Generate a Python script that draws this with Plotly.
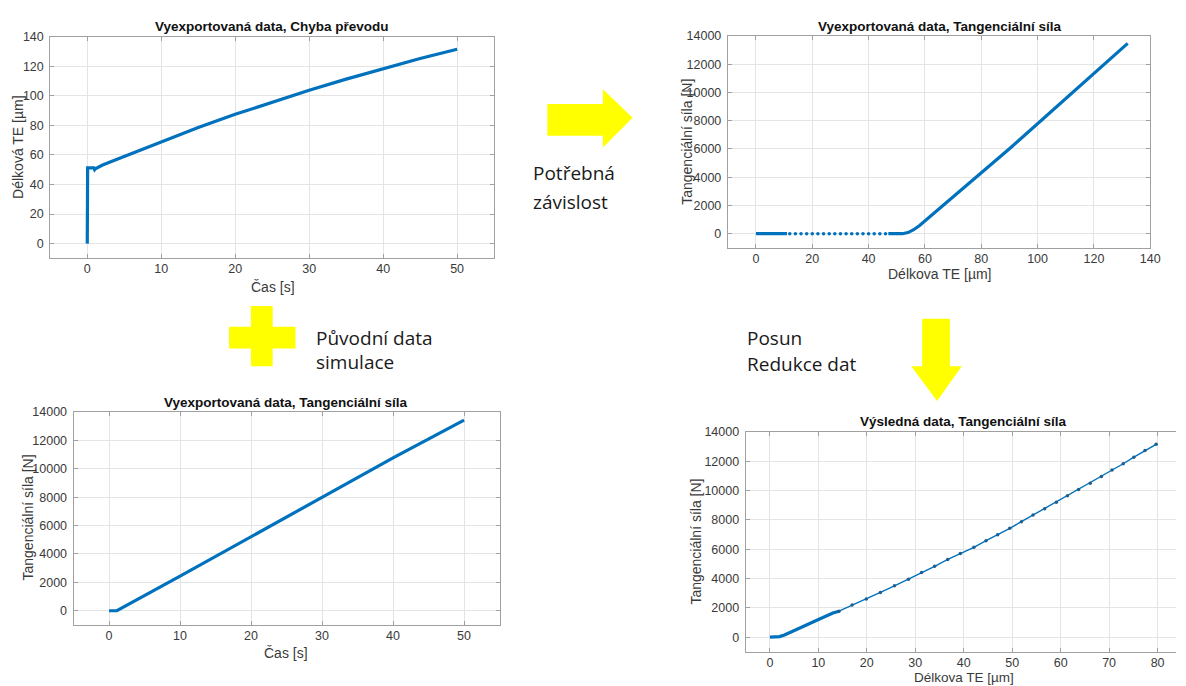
import plotly.graph_objects as go

W, H = 1186, 686
BLUE = "#0072BD"
GRID = "#e4e4e4"
AXC = "#a0a0a0"
TXT = "#3a3a3a"
YELLOW = "#FFFF00"
FONT = "Liberation Sans, Arial, sans-serif"
NOTE_FONT = "Open Sans, Noto Sans, sans-serif"

# ---- Data: plot 1 (Čas vs Délková TE)
cas1 = [0, 0, 0.05, 0.9, 1.0, 1.1, 2, 3, 5, 7.5, 10, 15, 20, 25, 30, 35, 40, 45, 50]
te1 = [0, 51, 51.3, 51.3, 50.0, 50.6, 53, 55, 59, 63.5, 68.5, 78.5, 87.5, 95.8, 103.7, 111.3, 118.5, 125.3, 131.5]

# ---- Data: plot 2 (Délkova TE vs Tangenciální síla)
te2_flat = [0, 11]
f2_flat = [0, 0]
te2_dots = [12, 14, 16, 18, 20, 22, 24, 26, 28, 30, 32, 34, 36, 38, 40, 42, 44, 46]
f2_dots = [0] * len(te2_dots)
te2_curve = [47, 52, 54, 56, 58, 60, 63, 66, 70, 75, 80, 85, 90, 95, 100, 105, 110, 115, 120, 125, 132]
f2_curve = [0, 0, 80, 280, 560, 900, 1400, 1910, 2600, 3420, 4250, 5135, 6020, 6905, 7790,
            8675, 9560, 10445, 11330, 12215, 13480]

# ---- Data: plot 3 (Čas vs Tangenciální síla)
cas3 = [0, 1.1, 10, 20, 30, 40, 50]
f3 = [0, 0, 2440, 5230, 8020, 10770, 13440]

# ---- Data: plot 4 (Výsledná data)
te4_dense = [0, 1, 1.6, 2, 3, 4, 5, 6, 7, 8, 9, 10, 11, 12, 13, 14.25]
f4_dense = [0, 0, 10, 40, 150, 290, 450, 600, 750, 900, 1050, 1200, 1350, 1500, 1650, 1775]
te4_pts = [14.25, 16.97, 19.9, 22.8, 25.7, 28.6, 31.3, 34.0, 36.7, 39.3, 42.1, 44.6, 47.0, 49.5,
           51.9, 54.3, 56.7, 59.1, 61.4, 63.7, 66.1, 68.4, 70.6, 72.9, 75.1, 77.4, 79.7]
f4_pts = [1775, 2200, 2607, 3056, 3505, 3955, 4404, 4831, 5303, 5708, 6128, 6579, 6983, 7428,
          7879, 8330, 8754, 9204, 9650, 10081, 10505, 10956, 11400, 11830, 12279, 12727, 13152]

titles = ["Vyexportovaná data, Chyba převodu", "Vyexportovaná data, Tangenciální síla",
          "Vyexportovaná data, Tangenciální síla", "Výsledná data, Tangenciální síla"]
xlabels = ["Čas [s]", "Délkova TE [µm]", "Čas [s]", "Délkova TE [µm]"]
ylabels = ["Délková TE [µm]", "Tangenciální síla [N]", "Tangenciální síla [N]", "Tangenciální síla [N]"]


def px(x):
    return x / W


def py(y):
    return 1 - y / H


fig = go.Figure()
fig.add_trace(go.Scatter(x=cas1, y=te1, mode="lines", line=dict(color=BLUE, width=3.2),
                         xaxis="x", yaxis="y"))
fig.add_trace(go.Scatter(x=te2_flat, y=f2_flat, mode="lines", line=dict(color=BLUE, width=3.2),
                         xaxis="x2", yaxis="y2"))
fig.add_trace(go.Scatter(x=te2_dots, y=f2_dots, mode="markers", marker=dict(color=BLUE, size=3.6),
                         xaxis="x2", yaxis="y2"))
fig.add_trace(go.Scatter(x=te2_curve, y=f2_curve, mode="lines", line=dict(color=BLUE, width=3.2),
                         xaxis="x2", yaxis="y2"))
fig.add_trace(go.Scatter(x=cas3, y=f3, mode="lines", line=dict(color=BLUE, width=3.2),
                         xaxis="x3", yaxis="y3"))
fig.add_trace(go.Scatter(x=te4_dense, y=f4_dense, mode="lines", line=dict(color=BLUE, width=3.2),
                         xaxis="x4", yaxis="y4"))
fig.add_trace(go.Scatter(x=te4_pts, y=f4_pts, mode="lines+markers", line=dict(color=BLUE, width=1.4),
                         marker=dict(color="#1f5f8f", size=3.5), xaxis="x4", yaxis="y4"))


def axis(dom, rng, dtick, anchor, mirror=True, standoff=-1):
    d = dict(domain=dom, range=rng, dtick=dtick, tick0=0, tickformat="d",
             showgrid=True, gridcolor=GRID, gridwidth=1, zeroline=False,
             showline=True, linecolor=AXC, linewidth=1,
             mirror="ticks" if mirror else False, ticks="inside", ticklen=4, tickcolor=AXC,
             tickfont=dict(family=FONT, size=12.5, color=TXT), anchor=anchor, fixedrange=True)
    d["ticklabelstandoff"] = standoff
    return d


# pixel boxes: (left, right, top, bottom)
boxes = [(50.7, 498.3, 30, 254), (734, 1160, 29.3, 243.3), (74.2, 503.8, 409.3, 624.3), (752, 1186, 429.3, 651.5)]
xr = [[-5, 55], [-10, 140], [-5, 55], [-5, 83.8]]
yr = [[-10, 140], [-1000, 14000], [-1000, 14000], [-1000, 14000]]
xd = [10, 20, 10, 10]
yd = [20, 2000, 2000, 2000]

layout = dict(width=W, height=H, margin=dict(l=0, r=0, t=0, b=0), showlegend=False,
              plot_bgcolor="white", paper_bgcolor="white", hovermode=False)
for i, (l, r, t, b) in enumerate(boxes):
    sfx = "" if i == 0 else str(i + 1)
    layout["xaxis" + sfx] = axis([px(l), px(r)], xr[i], xd[i], "y" + sfx, standoff=-1)
    layout["yaxis" + sfx] = axis([py(b), py(t)], yr[i], yd[i], "x" + sfx, mirror=(i != 3), standoff=3)
fig.update_layout(**layout)

# titles and axis labels
title_pos = [(274, 20), (948, 20), (288, 400), (972, 419)]
xlab_pos = [(275, 283), (948, 270), (288, 653), (972, 677)]
xlab_size = [14, 14, 14, 13.5]
ylab_pos = [(17.5, 141), (692, 136), (28, 516), (702, 540)]
anns = []
for i in range(4):
    anns.append(dict(text="<b>" + titles[i] + "</b>", x=px(title_pos[i][0]), y=py(title_pos[i][1]),
                     xref="paper", yref="paper", showarrow=False, xanchor="center", yanchor="middle",
                     font=dict(family=FONT, size=13.5, color="#111111")))
    anns.append(dict(text=xlabels[i], x=px(xlab_pos[i][0]), y=py(xlab_pos[i][1]),
                     xref="paper", yref="paper", showarrow=False, xanchor="center", yanchor="middle",
                     font=dict(family=FONT, size=xlab_size[i], color=TXT)))
    anns.append(dict(text=ylabels[i], x=px(ylab_pos[i][0]), y=py(ylab_pos[i][1]), textangle=-90,
                     xref="paper", yref="paper", showarrow=False, xanchor="center", yanchor="middle",
                     font=dict(family=FONT, size=14, color=TXT)))

notes = [("Potřebná", 536, 168), ("závislost", 536, 197), ("Původní data", 317, 334),
         ("simulace", 317, 359), ("Posun", 751, 334), ("Redukce dat", 751, 361)]
for txt, x, y in notes:
    anns.append(dict(text=txt, x=px(x), y=py(y), xref="paper", yref="paper", showarrow=False,
                     xanchor="left", yanchor="middle", font=dict(family=NOTE_FONT, size=19, color="#1a1a1a")))
fig.update_layout(annotations=anns)


def path(points):
    return "M " + " L ".join(f"{px(x):.5f},{py(y):.5f}" for x, y in points) + " Z"


arrow_right = [(552, 98), (608, 98), (608, 83), (638, 112), (608, 142), (608, 130), (552, 130)]
plus = [(253, 302), (275, 302), (275, 323), (298, 323), (298, 345), (275, 345), (275, 363),
        (253, 363), (253, 345), (231, 345), (231, 323), (253, 323)]
arrow_down = [(930, 315), (958, 315), (958, 363), (970, 363), (945, 398), (919, 363), (930, 363)]
shapes = [dict(type="path", path=path(p), xref="paper", yref="paper", fillcolor=YELLOW,
               line=dict(width=0), layer="above") for p in (arrow_right, plus, arrow_down)]
fig.update_layout(shapes=shapes)

fig.write_html("out.html", config={"displayModeBar": False, "staticPlot": True},
               post_script="document.body.style.margin='0';document.body.style.overflow='hidden';")
